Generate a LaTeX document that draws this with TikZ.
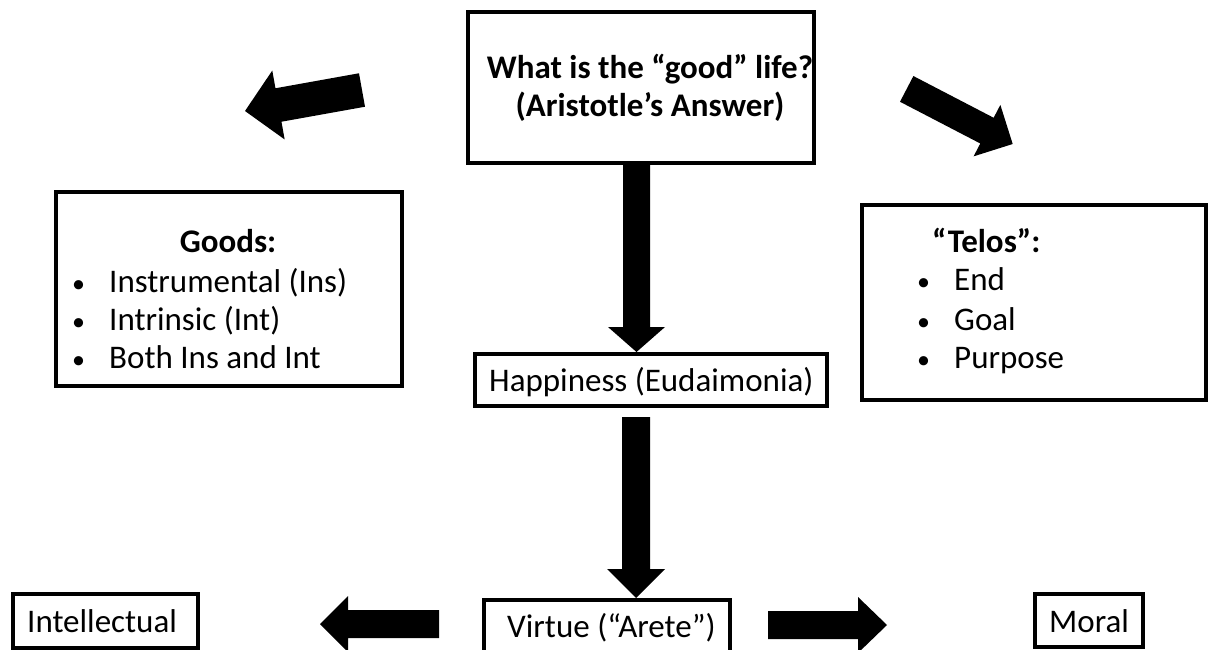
\documentclass[tikz,border=0pt]{standalone}
\usepackage{fontspec}
\setmainfont{Carlito}
\usetikzlibrary{calc}
% #1 start, #2 tip, #3 shaft half width, #4 head half width, #5 head length
\newcommand{\blockarrow}[5]{%
  \coordinate (ba-h) at ($(#2)!#5!(#1)$);
  \fill[black] ($(#1)!#3!90:(#2)$) -- ($(ba-h)!#3!90:(#2)$) -- ($(ba-h)!#4!90:(#2)$) -- (#2)
     -- ($(ba-h)!#4!270:(#2)$) -- ($(ba-h)!#3!270:(#2)$) -- ($(#1)!#3!270:(#2)$) -- cycle;
}
\tikzset{
  box/.style={draw=black, line width=4pt, rectangle, inner sep=0pt, fill=white},
  txt/.style={inner sep=0pt, anchor=base west, font=\fontsize{33}{38}\selectfont},
  btxt/.style={inner sep=0pt, anchor=base west, font=\fontsize{33}{38}\selectfont\bfseries},
  bul/.style={inner sep=0pt, anchor=base west, font=\fontsize{26}{30}\selectfont},
}
\begin{document}
\begin{tikzpicture}[x=1pt,y=-1pt]
\fill[white] (0,0) rectangle (1208,650);
\useasboundingbox (0,0) rectangle (1208,650);

% boxes
\node[box, minimum width=346pt, minimum height=151pt] (tb) at (641,87.5) {};
\node[box, minimum width=346pt, minimum height=194pt] (goods) at (229,289) {};
\node[box, minimum width=344pt, minimum height=195pt] (telos) at (1034,302.5) {};
\node[box, minimum width=352pt, minimum height=52pt] (hap) at (651,380) {};
\node[box, minimum width=246pt, minimum height=62pt] (vir) at (607,631) {};
\node[box, minimum width=185pt, minimum height=54pt] (intel) at (105.5,621) {};
\node[box, minimum width=108pt, minimum height=53pt] (moral) at (1089,620.5) {};

% texts
\node[btxt, anchor=base] (t1) at (650,79) {What is the “good” life?};
\node[btxt, anchor=base] (t2) at (650,117) {(Aristotle’s Answer)};

\node[btxt, anchor=base] (gh) at (228,252) {Goods:};
\node[bul] (gb1) at (72,292) {•};
\node[bul] (gb2) at (72,330) {•};
\node[bul] (gb3) at (72,368) {•};
\node[txt] (g1) at (109,292) {Instrumental (Ins)};
\node[txt] (g2) at (109,330) {Intrinsic (Int)};
\node[txt] (g3) at (109,368) {Both Ins and Int};

\node[btxt] (th) at (932,252) {“Telos”:};
\node[bul] (tb1) at (917,290) {•};
\node[bul] (tb2) at (917,330) {•};
\node[bul] (tb3) at (917,368) {•};
\node[txt] (p1) at (954,290) {End};
\node[txt] (p2) at (954,330) {Goal};
\node[txt] (p3) at (954,368) {Purpose};

\node[txt] (haptxt) at (489,391) {Happiness (Eudaimonia)};
\node[txt] (virtxt) at (507,637) {Virtue (“Arete”)};
\node[txt] (inttxt) at (27,632) {Intellectual};
\node[txt] (mortxt) at (1049,632) {Moral};

% arrow end points
\coordinate (a1s) at (tb.south -| 636.5,0);
\coordinate (a1e) at (hap.north -| 636.5,0);
\coordinate (a2s) at (636,417);
\coordinate (a2e) at (a2s |- vir.north);
\coordinate (a3s) at (439,624);
\coordinate (a3e) at (320,624);
\coordinate (a4s) at (768,625);
\coordinate (a4e) at (887,625);
\coordinate (a5s) at (362,90);
\coordinate (a5e) at (245,111);
\coordinate (a6s) at (906.7,88.9);
\coordinate (a6e) at (1012.7,144);

\blockarrow{a1s}{a1e}{13.5pt}{28.5pt}{25pt}
\blockarrow{a2s}{a2e}{14pt}{29pt}{29pt}
\blockarrow{a3s}{a3e}{14pt}{28pt}{28pt}
\blockarrow{a4s}{a4e}{14pt}{28pt}{29pt}
\blockarrow{a5s}{a5e}{17pt}{35pt}{34pt}
\blockarrow{a6s}{a6e}{14.5pt}{29pt}{29pt}
\end{tikzpicture}
\end{document}
